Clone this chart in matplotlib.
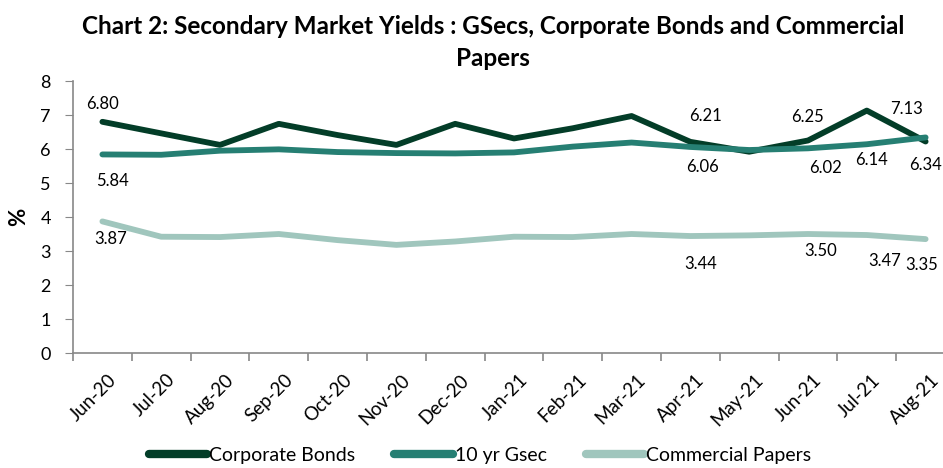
import matplotlib
matplotlib.use("Agg")
import matplotlib.pyplot as plt
from matplotlib.ticker import FixedLocator, NullFormatter
import matplotlib.transforms as mtransforms
import numpy as np

months = ["Jun-20", "Jul-20", "Aug-20", "Sep-20", "Oct-20", "Nov-20", "Dec-20",
          "Jan-21", "Feb-21", "Mar-21", "Apr-21", "May-21", "Jun-21", "Jul-21", "Aug-21"]
corporate_bonds = [6.80, 6.46, 6.12, 6.74, 6.41, 6.12, 6.74, 6.31, 6.61, 6.97, 6.21, 5.92, 6.25, 7.13, 6.22]
gsec_10yr = [5.84, 5.83, 5.95, 5.99, 5.91, 5.88, 5.87, 5.90, 6.07, 6.19, 6.06, 5.97, 6.02, 6.14, 6.34]
commercial_papers = [3.87, 3.42, 3.41, 3.50, 3.32, 3.18, 3.28, 3.42, 3.41, 3.50, 3.44, 3.46, 3.50, 3.47, 3.35]

# label placement: (index, dx px, dy px)
cb_labels = [(0, 0, 18), (10, 15, 26), (12, 0, 23), (13, 40, 2)]
gs_labels = [(0, 10, -27), (10, 12, -20), (12, 18, -20), (13, 5, -16), (14, 0, -28)]
cp_labels = [(0, 8, -18), (10, 10, -28), (12, 13, -17), (13, 18, -26), (14, -4, -26)]

plt.rcParams['font.family'] = ['Lato', 'DejaVu Sans']

W, H = 943, 468
fig = plt.figure(figsize=(W / 100, H / 100), dpi=100)
ax = fig.add_axes([73 / W, 1 - 353 / H, (955 - 73) / W, (353 - 81) / H])

c_cb = "#033D28"
c_gs = "#267F73"
c_cp = "#A0C6BD"

x = np.arange(len(months))
ax.plot(x, corporate_bonds, color=c_cb, lw=4.2, solid_capstyle='round', label="Corporate Bonds", zorder=3)
ax.plot(x, gsec_10yr, color=c_gs, lw=4.2, solid_capstyle='round', label="10 yr Gsec", zorder=4)
ax.plot(x, commercial_papers, color=c_cp, lw=4.2, solid_capstyle='round', label="Commercial Papers", zorder=3)

for series, labs in ((corporate_bonds, cb_labels), (gsec_10yr, gs_labels), (commercial_papers, cp_labels)):
    for i, dx, dy in labs:
        ax.annotate(f"{series[i]:.2f}", (x[i], series[i]), xytext=(dx, dy),
                    textcoords='offset pixels', ha='center', va='center', fontsize=12, color='black')

ax.set_xlim(-0.5, len(months) - 0.5)
ax.set_ylim(0, 8)
ax.set_yticks(range(0, 9))
ax.tick_params(axis='y', labelsize=13, length=6, color='#888888', pad=10)

ax.set_xticks(x)
ax.set_xticklabels(months, rotation=45, ha='right', va='top', rotation_mode='anchor', fontsize=13.5)
ax.tick_params(axis='x', which='major', length=0, pad=13)
offset = mtransforms.ScaledTranslation(5 / 100, 0, fig.dpi_scale_trans)
for lab in ax.get_xticklabels():
    lab.set_transform(lab.get_transform() + offset)
ax.xaxis.set_minor_locator(FixedLocator(np.arange(-0.5, len(months), 1.0)))
ax.xaxis.set_minor_formatter(NullFormatter())
ax.tick_params(axis='x', which='minor', length=6, color='#888888', width=1.2)

for s in ['top', 'right']:
    ax.spines[s].set_visible(False)
for s in ['left', 'bottom']:
    ax.spines[s].set_color('#888888')
    ax.spines[s].set_linewidth(1.2)

ax.set_ylabel("%", fontsize=16, fontweight='bold', labelpad=8)

fig.text(493 / W, 1 - 27 / H, "Chart 2: Secondary Market Yields : GSecs, Corporate Bonds and Commercial",
         ha='center', va='center', fontsize=17.5, fontweight='bold')
fig.text(493 / W, 1 - 59 / H, "Papers", ha='center', va='center', fontsize=17.5, fontweight='bold')

leg = fig.legend(loc='center', bbox_to_anchor=(480 / W, 1 - 455 / H), ncol=3, frameon=False,
                 fontsize=14, handlelength=3.0, handletextpad=0.1, columnspacing=2.0,
                 borderpad=0.1)
for line in leg.get_lines():
    line.set_linewidth(6)
    line.set_solid_capstyle('round')

fig.savefig("out.png", dpi=100)
